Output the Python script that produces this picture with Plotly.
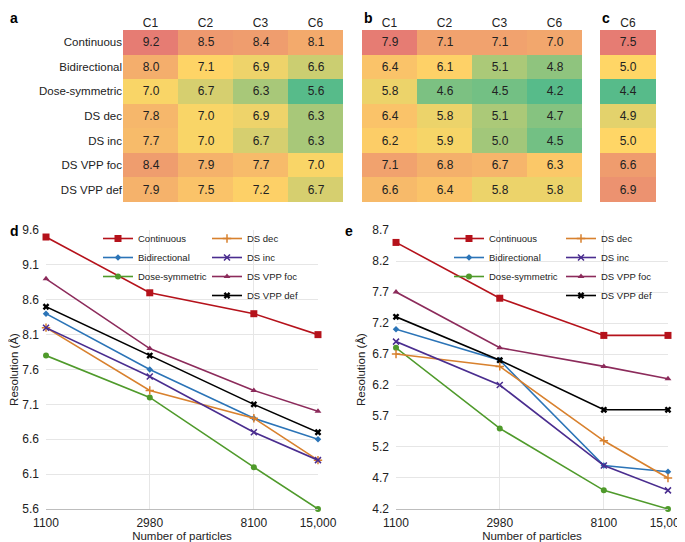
import numpy as np
import plotly.graph_objects as go

# ---------------- data ----------------
methods = ["Continuous", "Bidirectional", "Dose-symmetric", "DS dec", "DS inc", "DS VPP foc", "DS VPP def"]
cols_ab = ["C1", "C2", "C3", "C6"]
cols_c = ["C6"]

heat_a = [
    [9.2, 8.5, 8.4, 8.1],
    [8.0, 7.1, 6.9, 6.6],
    [7.0, 6.7, 6.3, 5.6],
    [7.8, 7.0, 6.9, 6.3],
    [7.7, 7.0, 6.7, 6.3],
    [8.4, 7.9, 7.7, 7.0],
    [7.9, 7.5, 7.2, 6.7],
]
heat_b = [
    [7.9, 7.1, 7.1, 7.0],
    [6.4, 6.1, 5.1, 4.8],
    [5.8, 4.6, 4.5, 4.2],
    [6.4, 5.8, 5.1, 4.7],
    [6.2, 5.9, 5.0, 4.5],
    [7.1, 6.8, 6.7, 6.3],
    [6.6, 6.4, 5.8, 5.8],
]
heat_c = [[7.5], [5.0], [4.4], [4.9], [5.0], [6.6], [6.9]]

particles = [1100, 2980, 8100, 15000]
particle_labels = ["1100", "2980", "8100", "15,000"]

res_d = {
    "Continuous": [9.5, 8.7, 8.4, 8.1],
    "Bidirectional": [8.4, 7.6, 6.9, 6.6],
    "Dose-symmetric": [7.8, 7.2, 6.2, 5.6],
    "DS dec": [8.2, 7.3, 6.9, 6.3],
    "DS inc": [8.2, 7.5, 6.7, 6.3],
    "DS VPP foc": [8.9, 7.9, 7.3, 7.0],
    "DS VPP def": [8.5, 7.8, 7.1, 6.7],
}
res_e = {
    "Continuous": [8.5, 7.6, 7.0, 7.0],
    "Bidirectional": [7.1, 6.6, 4.9, 4.8],
    "Dose-symmetric": [6.8, 5.5, 4.5, 4.2],
    "DS dec": [6.7, 6.5, 5.3, 4.7],
    "DS inc": [6.9, 6.2, 4.9, 4.5],
    "DS VPP foc": [7.7, 6.8, 6.5, 6.3],
    "DS VPP def": [7.3, 6.6, 5.8, 5.8],
}
yticks_d = [5.6, 6.1, 6.6, 7.1, 7.6, 8.1, 8.6, 9.1, 9.6]
yticks_e = [4.2, 4.7, 5.2, 5.7, 6.2, 6.7, 7.2, 7.7, 8.2, 8.7]

# ---------------- styles ----------------
FONT = "Liberation Sans, Arial, Helvetica, sans-serif"
styles = {
    "Continuous": dict(color="#B5121B", symbol="square", size=7),
    "Bidirectional": dict(color="#2B74B7", symbol="diamond", size=5),
    "Dose-symmetric": dict(color="#4F9A2B", symbol="circle", size=6),
    "DS dec": dict(color="#D8812E", symbol="cross-thin", size=6),
    "DS inc": dict(color="#4A2D8F", symbol="x-thin", size=6),
    "DS VPP foc": dict(color="#8C2B5B", symbol="triangle-up", size=6),
    "DS VPP def": dict(color="#000000", symbol="x", size=6),
}
legend_group1 = ["Continuous", "Bidirectional", "Dose-symmetric"]

# the page body has an 8px margin, so the figure is drawn 8px in from the top-left
OFF = 8
FW, FH = 685 - OFF, 542 - OFF


def px_x(x):
    return (x - OFF) / FW


def px_y(y):
    return 1 - (y - OFF) / FH


def scale_for(values):
    v = np.array(values, dtype=float).ravel()
    lo, hi, med = v.min(), v.max(), np.median(v)
    mid = (med - lo) / (hi - lo)
    return lo, hi, [[0, "#57BB8A"], [mid, "#FFD666"], [1, "#E67C73"]]


fig = go.Figure()

# ---------------- heatmaps ----------------
heat_panels = [
    ("x", "y", heat_a, cols_ab, (123, 343)),
    ("x2", "y2", heat_b, cols_ab, (362, 582)),
    ("x3", "y3", heat_c, cols_c, (600, 656)),
]
for xa, ya, z, cols, _ in heat_panels:
    lo, hi, cs = scale_for(z)
    fig.add_trace(go.Heatmap(
        z=z, x=cols, y=methods, xaxis=xa, yaxis=ya,
        zmin=lo, zmax=hi, colorscale=cs, showscale=False,
        texttemplate="%{z:.1f}", textfont=dict(size=12, color="#222222", family=FONT),
        hoverinfo="skip",
    ))

# ---------------- line charts ----------------
for data, xa, ya, lg in [(res_d, "x4", "y4", ("legend", "legend2")),
                         (res_e, "x5", "y5", ("legend3", "legend4"))]:
    for name, vals in data.items():
        s = styles[name]
        fig.add_trace(go.Scatter(
            x=particles, y=vals, name=name, xaxis=xa, yaxis=ya,
            mode="lines+markers", cliponaxis=False,
            line=dict(color=s["color"], width=1.6),
            marker=dict(symbol=s["symbol"], size=s["size"], color=s["color"],
                        line=dict(color=s["color"], width=1.5 if "thin" in s["symbol"] else 0)),
            legend=lg[0] if name in legend_group1 else lg[1],
        ))

layout = dict(
    width=FW, height=FH,
    margin=dict(l=0, r=0, t=0, b=0),
    paper_bgcolor="white", plot_bgcolor="white",
    font=dict(family=FONT, size=11, color="#222222"),
)

# heatmap axes
for i, (xa, ya, z, cols, (x0, x1)) in enumerate(heat_panels):
    xk = "xaxis" if xa == "x" else "xaxis" + xa[1:]
    yk = "yaxis" if ya == "y" else "yaxis" + ya[1:]
    layout[xk] = dict(domain=[px_x(x0), px_x(x1)], side="top", showgrid=False,
                      zeroline=False, ticks="", tickfont=dict(size=12, family=FONT),
                      anchor=ya, fixedrange=True, automargin=False)
    layout[yk] = dict(domain=[px_y(202), px_y(30)], autorange="reversed", showgrid=False,
                      zeroline=False, ticks="", showticklabels=(i == 0),
                      tickfont=dict(size=11.5, family=FONT), anchor=xa, fixedrange=True,
                      automargin=False)

eps = 1e-4
lx0, lx1 = np.log10(particles[0]) - eps, np.log10(particles[-1]) + eps
for xk, yk, xa, ya, (x0, x1), yt in [("xaxis4", "yaxis4", "x4", "y4", (46, 318), yticks_d),
                                     ("xaxis5", "yaxis5", "x5", "y5", (396, 668), yticks_e)]:
    layout[xk] = dict(domain=[px_x(x0), px_x(x1)], type="log", range=[lx0, lx1],
                      tickvals=particles, ticktext=particle_labels,
                      showgrid=True, gridcolor="#E6E6E6", zeroline=False,
                      showline=True, linecolor="#BDBDBD", linewidth=1,
                      ticks="", ticklabelstandoff=3, ticklabeloverflow="allow",
                      tickfont=dict(size=12, family=FONT),
                      title=dict(text="Number of particles", font=dict(size=11.5, family=FONT), standoff=0),
                      anchor=ya, automargin=False)
    layout[yk] = dict(domain=[px_y(509), px_y(230)], range=[yt[0] - 0.0005, yt[-1] + 0.0005],
                      tickvals=yt, ticktext=[f"{v:.1f}" for v in yt],
                      showgrid=True, gridcolor="#E6E6E6", zeroline=False,
                      ticks="", ticklabelstandoff=6, ticklabeloverflow="allow",
                      tickfont=dict(size=12, family=FONT),
                      title=dict(text="Resolution (Å)", font=dict(size=11.5, family=FONT), standoff=4),
                      anchor=xa, automargin=False)

leg_common = dict(bgcolor="rgba(0,0,0,0)", font=dict(size=9.5, family=FONT),
                  xanchor="left", yanchor="top", tracegroupgap=0, itemwidth=30)
layout["legend"] = dict(leg_common, x=px_x(98), y=px_y(224))
layout["legend2"] = dict(leg_common, x=px_x(207), y=px_y(224))
layout["legend3"] = dict(leg_common, x=px_x(449), y=px_y(224))
layout["legend4"] = dict(leg_common, x=px_x(561), y=px_y(224))

ann = []
for letter, x, y in [("a", 8, 8), ("b", 362, 8), ("c", 600, 8), ("d", 8, 221), ("e", 343, 221)]:
    ann.append(dict(text=f"<b>{letter}</b>", x=px_x(x), y=px_y(y), xref="paper", yref="paper",
                    xanchor="left", yanchor="top", showarrow=False,
                    font=dict(size=14, family=FONT, color="#000000")))
layout["annotations"] = ann

fig.update_layout(**layout)
fig.write_html("out.html")
